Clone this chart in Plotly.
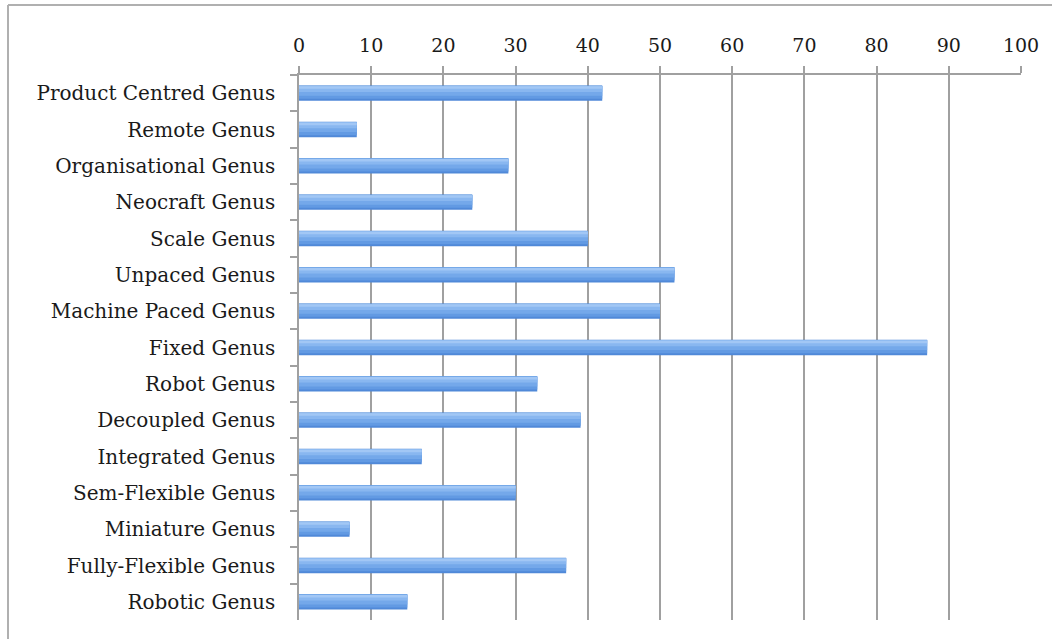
import plotly.graph_objects as go

categories = [
    "Product Centred Genus", "Remote Genus", "Organisational Genus", "Neocraft Genus",
    "Scale Genus", "Unpaced Genus", "Machine Paced Genus", "Fixed Genus", "Robot Genus",
    "Decoupled Genus", "Integrated Genus", "Sem-Flexible Genus", "Miniature Genus",
    "Fully-Flexible Genus", "Robotic Genus",
]
values = [42, 8, 29, 24, 40, 52, 50, 87, 33, 39, 17, 30, 7, 37, 15]
x_ticks = list(range(0, 101, 10))

FONT = "DejaVu Serif"
W, H = 1052, 639
L, R, T, B = 299, 31, 75, 19
pw, ph = W - L - R, H - T - B

fig = go.Figure()
# layered bands to imitate the gradient fill
bands = [
    (-0.21, 0.42, "#5089d8"),
    (-0.205, 0.36, "#629ae3"),
    (-0.20, 0.27, "#74a8ea"),
    (-0.195, 0.16, "#89b7f0"),
    (-0.19, 0.07, "#a2c7f5"),
]
for off, wd, col in bands:
    fig.add_trace(go.Bar(
        x=values, y=categories, orientation="h",
        offset=off, width=wd,
        marker=dict(color=col, line=dict(width=0)),
        hoverinfo="x+y", showlegend=False,
    ))

fig.update_layout(
    width=W, height=H,
    barmode="overlay",
    margin=dict(l=L, r=R, t=T, b=B),
    paper_bgcolor="white", plot_bgcolor="white",
    font=dict(family=FONT, color="#1a1a1a", size=20),
    xaxis=dict(
        side="top", range=[0, 100], tickvals=x_ticks,
        showgrid=True, gridcolor="#a0a0a0", gridwidth=1.5,
        showline=True, linecolor="#a0a0a0", linewidth=1.5,
        ticks="outside", ticklen=7, tickcolor="#a0a0a0", tickwidth=1.5,
        tickfont=dict(family=FONT, size=19, color="#1a1a1a"),
        ticklabelstandoff=7,
        zeroline=False, fixedrange=True,
    ),
    yaxis=dict(
        categoryorder="array", categoryarray=categories,
        autorange="reversed",
        showline=True, linecolor="#a0a0a0", linewidth=1.5,
        ticks="outside", tickson="boundaries", ticklen=7,
        tickcolor="#a0a0a0", tickwidth=1.5,
        tickfont=dict(family=FONT, size=20, color="#1a1a1a"),
        ticklabelstandoff=18,
        showgrid=False, fixedrange=True,
    ),
    shapes=[
        dict(type="line", xref="paper", yref="paper",
             x0=(8 - L) / pw, x1=(W - L) / pw, y0=(H - B - 5) / ph, y1=(H - B - 5) / ph,
             line=dict(color="#b0b0b0", width=2)),
        dict(type="line", xref="paper", yref="paper",
             x0=(8 - L) / pw, x1=(8 - L) / pw, y0=(H - B - 5) / ph, y1=-B / ph,
             line=dict(color="#b0b0b0", width=2)),
    ],
)

fig.write_html("out.html")
